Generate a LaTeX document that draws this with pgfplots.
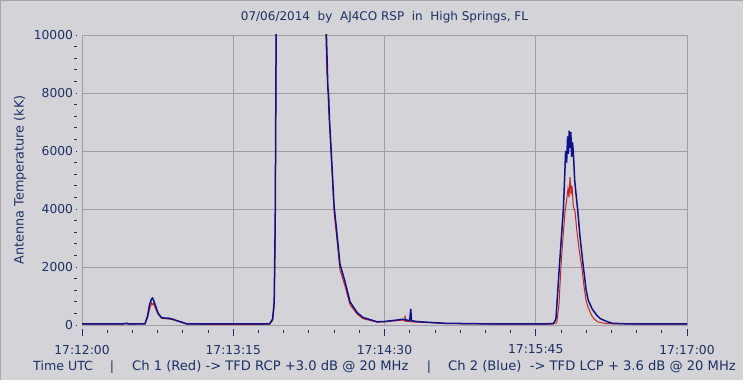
\documentclass[border=0pt]{standalone}
\usepackage{pgfplots}
\pgfplotsset{compat=1.18}
\usepackage{fontspec}
\setmainfont{DejaVu Sans}
\definecolor{bgc}{RGB}{212,212,216}
\definecolor{gridc}{RGB}{160,160,164}
\definecolor{navytxt}{RGB}{28,48,100}
\definecolor{chblue}{RGB}{16,16,140}
\definecolor{chred}{RGB}{200,36,28}
\pgfplotstableread{
s v
0 30
10 30
20 30
22.3 45
23 30
31.2 40
32.5 250
33.5 550
34.5 760
35 700
35.5 740
36.5 560
37.7 380
39.5 230
41 220
42.6 210
45.1 180
47 140
49.4 90
51.9 30
60 25
75 25
90 25
93 30
94.5 150
95.3 600
95.8 3000
96.2 9000
96.6 15000
120.5 15000
120.8 10400
121.4 8700
121.7 8500
122.2 7600
123.5 5900
125 3900
127 2550
127.9 1900
130.4 1350
132.9 700
136.4 380
139.3 220
146.3 100
150 110
156 150
159 170
160 140
160.2 330
160.5 130
162 120
165 100
170 90
175 70
180 50
190 40
200 35
220 30
233 30
235.4 80
236.5 700
237.5 2000
238.5 3000
239.5 3900
240.3 4300
241 4700
241.5 4400
242 5100
242.5 4500
243 4800
243.6 4100
244.5 3900
245.3 3300
246.5 2600
247.8 2000
249 1300
249.9 860
251 600
252.7 330
254 200
256 100
260 50
265 40
280 30
300 30
}\redtab
\pgfplotstableread{
s v
0 35
10 35
20 35
22.3 60
23 35
31.2 40
32.5 300
33.5 700
34.5 900
35 930
35.5 850
36.5 650
37.7 410
39.5 250
41 240
42.6 240
45.1 200
47 150
49.4 100
51.9 40
60 35
75 35
90 35
93 40
94.5 200
95.3 800
95.8 3500
96.2 9000
96.6 15000
120.8 15000
121.2 10000
121.6 9000
121.9 8200
122.3 7900
122.7 7100
123.5 6100
125 4100
127 2750
127.9 2100
130.4 1500
132.9 800
136.4 430
139.3 260
146.3 110
150 120
156 170
159 200
162.5 150
163 550
163.4 150
166 120
170 100
175 80
180 60
190 50
200 40
220 35
233.7 45
235 200
236.7 2000
237.7 3000
238.7 4000
239.4 5200
239.8 6000
240.3 5600
240.8 6500
241.2 5900
241.6 6700
242 6100
242.4 6650
242.8 5800
243.2 6300
243.6 6000
244.3 5000
245 4500
245.8 3970
247 3000
248.6 2000
250 1200
251 860
253 550
255.2 340
257 220
260.2 120
263 60
270 40
300 35
}\bluetab
\begin{document}
\begin{tikzpicture}
\useasboundingbox (0bp,0bp) rectangle (747bp,383bp);
\fill[white] (0bp,0bp) rectangle (747bp,383bp);
\fill[bgc] (0bp,3bp) rectangle (743bp,383bp);
\draw[gray!70,line width=1bp] (0.5bp,3bp) -- (0.5bp,382.5bp) -- (743bp,382.5bp);
\begin{axis}[
  at={(82bp,58bp)}, anchor=south west,
  scale only axis, width=605bp, height=290bp,
  xmin=0, xmax=300, ymin=0, ymax=10000,
  axis background/.style={fill=bgc},
  axis line style={gridc},
  grid=major, major grid style={gridc, line width=0.8bp},
  scaled y ticks=false, scaled x ticks=false,
  xtick pos=bottom, ytick pos=left,
  xtick={0,75,150,225,300},
  xticklabels={17:12:00,17:13:15,17:14:30,17:15:45,17:17:00},
  ytick={0,2000,4000,6000,8000,10000},
  yticklabels={0,2000,4000,6000,8000,10000},
  minor x tick num=5, minor y tick num=4,
  tick align=outside,
  major tick length=1.5bp, minor tick length=3bp,
  every tick/.style={navytxt, line width=0.8bp},
  every major x tick/.style={yshift=-4bp},
  every minor x tick/.style={yshift=-5bp},
  every major y tick/.style={xshift=-5bp},
  every minor y tick/.style={xshift=-5bp},
  extra x ticks={0,75,150,225,300},
  extra x tick labels={},
  extra x tick style={major tick length=7bp, grid=none},
  tick label style={font=\fontsize{12.3bp}{14bp}\selectfont, text=navytxt},
  xticklabel style={yshift=-15bp},
  yticklabel style={xshift=-4bp},
  clip=true,
]
\addplot[chred, line width=1bp] table[x=s,y=v] {\redtab};
\addplot[chblue, line width=1.5bp] table[x=s,y=v] {\bluetab};
\end{axis}
\node[text=navytxt, font=\fontsize{12bp}{14bp}\selectfont] at (384.5bp,366bp) {07/06/2014\ \ by\ \ AJ4CO RSP\ \ in\ \ High Springs, FL};
\node[text=navytxt, font=\fontsize{12.8bp}{14bp}\selectfont, rotate=90] at (20bp,203bp) {Antenna Temperature (kK)};
\begin{scope}[every node/.style={text=navytxt, font=\fontsize{12.6bp}{14bp}\selectfont, inner sep=0pt}]
\node[anchor=base west] at (33bp,13bp) {Time UTC};
\node[anchor=base] at (112bp,13bp) {|};
\node[anchor=base west, font=\fontsize{13.1bp}{14bp}\selectfont] at (132bp,13bp) {Ch 1 (Red) -> TFD RCP +3.0 dB @ 20 MHz};
\node[anchor=base] at (429bp,13bp) {|};
\node[anchor=base west, font=\fontsize{13.1bp}{14bp}\selectfont] at (448bp,13bp) {Ch 2 (Blue)\ \ -> TFD LCP + 3.6 dB @ 20 MHz};
\end{scope}
\end{tikzpicture}
\end{document}
